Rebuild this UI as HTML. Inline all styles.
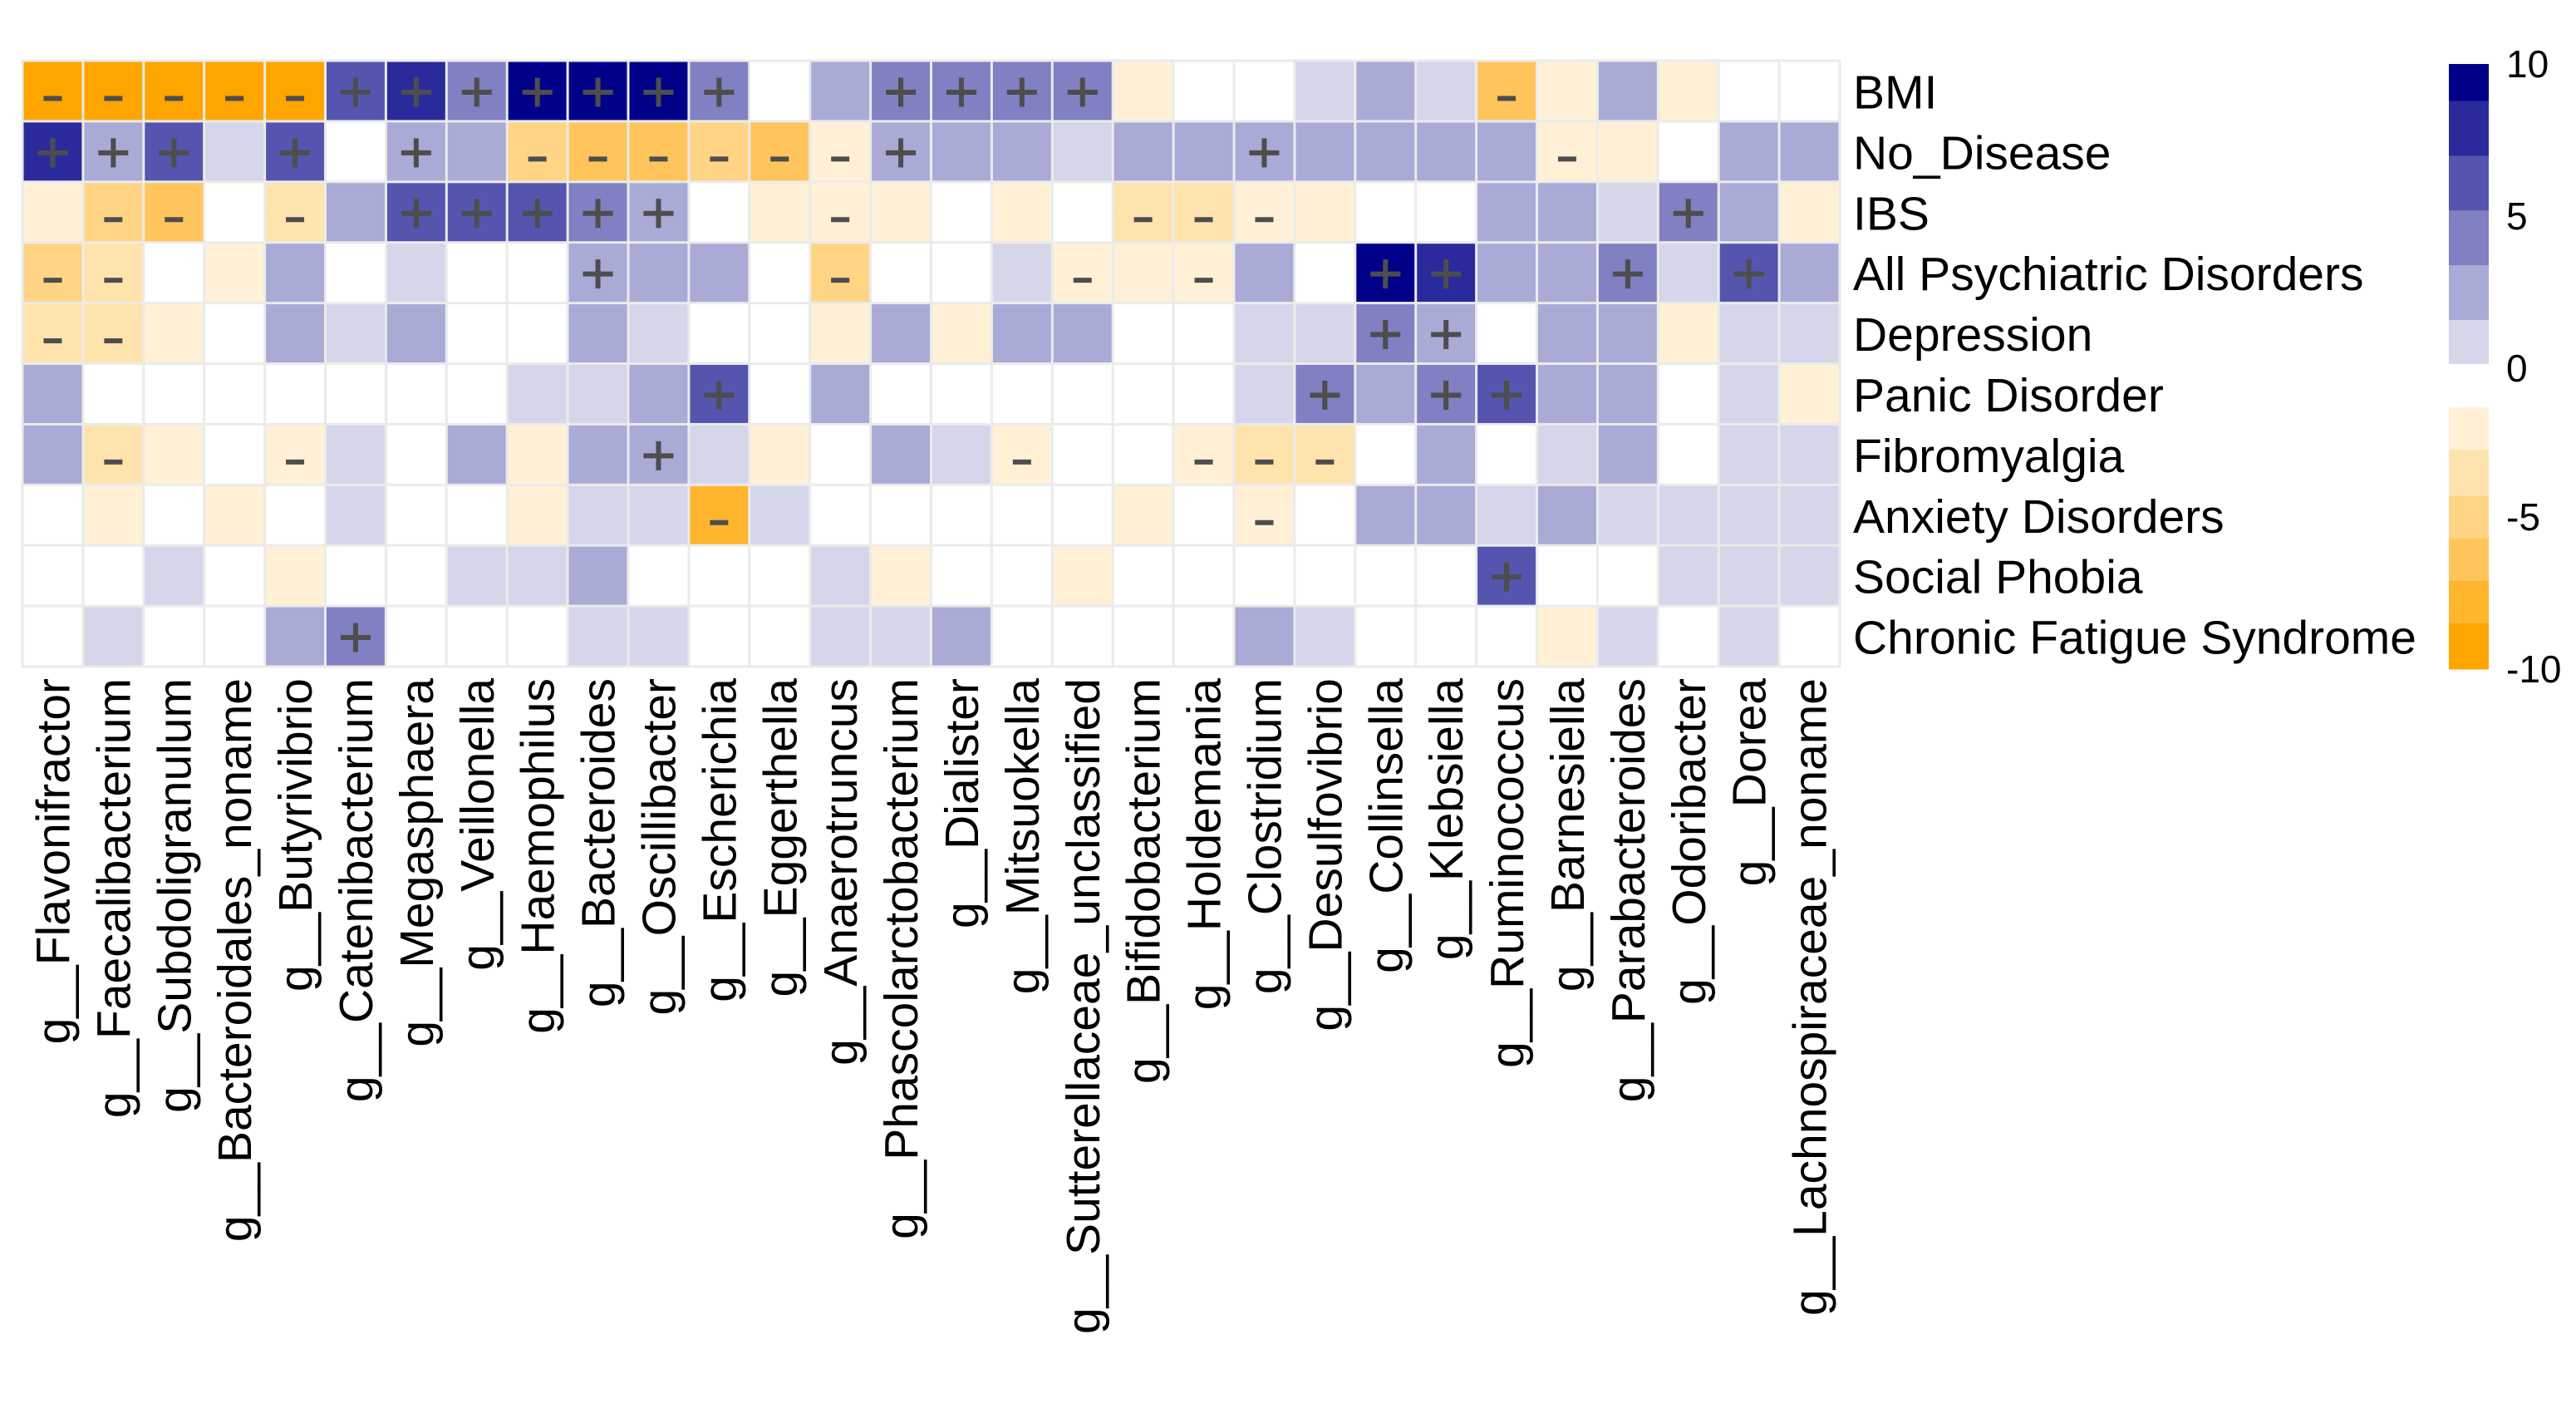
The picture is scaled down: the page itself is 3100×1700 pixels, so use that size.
<!DOCTYPE html>
<html><head><meta charset="utf-8">
<style>
html,body{margin:0;padding:0;background:#fff;}
svg{display:block;}
text{font-family:"Liberation Sans",Arial,sans-serif;fill:#000;}
</style></head>
<body>
<svg id="chart" width="3100" height="1700" viewBox="0 0 3100 1700" xmlns="http://www.w3.org/2000/svg">
<g id="cells"></g>
<g id="marks"></g>
<g id="rowlabels"></g>
<g id="collabels"></g>
<g id="legend"></g>
</svg>
<script>
const rowNames = ["BMI","No_Disease","IBS","All Psychiatric Disorders","Depression","Panic Disorder","Fibromyalgia","Anxiety Disorders","Social Phobia","Chronic Fatigue Syndrome"];
const colNames = ["g__Flavonifractor","g__Faecalibacterium","g__Subdoligranulum","g__Bacteroidales_noname","g__Butyrivibrio","g__Catenibacterium","g__Megasphaera","g__Veillonella","g__Haemophilus","g__Bacteroides","g__Oscillibacter","g__Escherichia","g__Eggerthella","g__Anaerotruncus","g__Phascolarctobacterium","g__Dialister","g__Mitsuokella","g__Sutterellaceae_unclassified","g__Bifidobacterium","g__Holdemania","g__Clostridium","g__Desulfovibrio","g__Collinsella","g__Klebsiella","g__Ruminococcus","g__Barnesiella","g__Parabacteroides","g__Odoribacter","g__Dorea","g__Lachnospiraceae_noname"];
const valBMI = [-9.5,-9.5,-9.5,-9.5,-9.5,6,7.8,4.2,9.5,9.5,9.5,4.2,0,2.5,4.2,4.2,4.2,4.2,-2,0,0,0.8,2.5,0.8,-6.5,-2,2.5,-2,0,0];
const valNoDisease = [7.8,2.5,6,0.8,6,0,2.5,2.5,-5,-6.5,-6.5,-5,-6.5,-2,2.5,2.5,2.5,0.8,2.5,2.5,2.5,2.5,2.5,2.5,2.5,-2,-2,0,2.5,2.5];
const valIBS = [-2,-5,-6.5,0,-3.5,2.5,6,6,6,4.2,2.5,0,-2,-2,-2,0,-2,0,-3.5,-3.5,-2,-2,0,0,2.5,2.5,0.8,4.2,2.5,-2];
const valPsych = [-5,-3.5,0,-2,2.5,0,0.8,0,0,2.5,2.5,2.5,0,-5,0,0,0.8,-2,-2,-2,2.5,0,9.5,7.8,2.5,2.5,4.2,0.8,6,2.5];
const valDepression = [-3.5,-3.5,-2,0,2.5,0.8,2.5,0,0,2.5,0.8,0,0,-2,2.5,-2,2.5,2.5,0,0,0.8,0.8,4.2,2.5,0,2.5,2.5,-2,0.8,0.8];
const valPanic = [2.5,0,0,0,0,0,0,0,0.8,0.8,2.5,6,0,2.5,0,0,0,0,0,0,0.8,4.2,2.5,4.2,6,2.5,2.5,0,0.8,-2];
const valFibro = [2.5,-3.5,-2,0,-2,0.8,0,2.5,-2,2.5,2.5,0.8,-2,0,2.5,0.8,-2,0,0,-2,-3.5,-3.5,0,2.5,0,0.8,2.5,0,0.8,0.8];
const valAnxiety = [0,-2,0,-2,0,0.8,0,0,-2,0.8,0.8,-8,0.8,0,0,0,0,0,-2,0,-2,0,2.5,2.5,0.8,2.5,0.8,0.8,0.8,0.8];
const valSocial = [0,0,0.8,0,-2,0,0,0.8,0.8,2.5,0,0,0,0.8,-2,0,0,-2,0,0,0,0,0,0,6,0,0,0.8,0.8,0.8];
const valCFS = [0,0.8,0,0,2.5,4.2,0,0,0,0.8,0.8,0,0,0.8,0.8,2.5,0,0,0,0,2.5,0.8,0,0,0,-2,0.8,0,0.8,0];
const sigBMI = "111111111111001111000000100000";
const sigNoDisease = "111010101111111000001000010000";
const sigIBS = "011010111110010000111000000100";
const sigPsych = "110000000100010001010011001010";
const sigDepression = "110000000000000000000011000000";
const sigPanic = "000000000001000000000101100000";
const sigFibro = "010010000010000010011100000000";
const sigAnxiety = "000000000001000000001000000000";
const sigSocial = "000000000000000000000000100000";
const sigCFS = "000001000000000000000000000000";
const legendTicks = [10,5,0,-5,-10];

const values = [valBMI,valNoDisease,valIBS,valPsych,valDepression,valPanic,valFibro,valAnxiety,valSocial,valCFS];
const sigs = [sigBMI,sigNoDisease,sigIBS,sigPsych,sigDepression,sigPanic,sigFibro,sigAnxiety,sigSocial,sigCFS];

const NS = "http://www.w3.org/2000/svg";
const gx0 = 27, gy0 = 73, cw = 72.9, ch = 72.9;
function xPos(j){ return gx0 + j*cw; }
function yPos(i){ return gy0 + i*ch; }
const blues = ["#D6D6EA","#AAAAD6","#8080C2","#5555B0","#2B2A9C","#000088"];
const oranges = ["#FFF0D6","#FFE3AD","#FFD485","#FFC55C","#FFB52E","#FFA500"];
function color(v){
  if (v > 0.15){ const b=[1.6,3.4,5.2,7.0,8.8]; let k=0; while(k<5 && v>=b[k]) k++; return blues[k]; }
  if (v < -1.4){ const b=[2.8,4.3,5.7,7.1,8.5]; const a=-v; let k=0; while(k<5 && a>=b[k]) k++; return oranges[k]; }
  return "#FFFFFF";
}
function mk(tag, attrs, parent){ const e=document.createElementNS(NS,tag); for(const k in attrs) e.setAttribute(k, attrs[k]); parent.appendChild(e); return e; }

const gc = document.getElementById("cells");
const gm = document.getElementById("marks");
mk("rect",{x:gx0-1.5,y:gy0-1.5,width:cw*30+3,height:ch*10+3,fill:"#EBEBEB"},gc);
values.forEach((row,i)=>{
  row.forEach((v,j)=>{
    const r = mk("rect",{x:xPos(j)+1.5,y:yPos(i)+1.5,width:cw-3,height:ch-3,fill:color(v)},gc);
    
    
    if (sigs[i][j]==="1"){
      const cx = xPos(j)+cw/2, cy = yPos(i)+ch/2;
      if (v>0){
        const p = mk("path",{d:`M${cx-18} ${cy+1.5}H${cx+18}M${cx} ${cy-16}V${cy+19}`,stroke:"#4D4D4D","stroke-width":6,fill:"none"},gm);
        
        
      } else {
        const p = mk("rect",{x:cx-11,y:cy+6,width:22,height:6,fill:"#4D4D4D"},gm);
        
        
      }
    }
  });
});
const gr = document.getElementById("rowlabels");
rowNames.forEach((n,i)=>{
  const t = mk("text",{x:2230,y:yPos(i)+ch/2+21,"font-size":57},gr);
  t.textContent = n;
  
  
});
const gcl = document.getElementById("collabels");
colNames.forEach((n,j)=>{
  const cx = xPos(j)+cw/2+20;
  const t = mk("text",{transform:`translate(${cx},816) rotate(-90)`,"text-anchor":"end","font-size":57},gcl);
  t.textContent = n;
  
  
});
const gl = document.getElementById("legend");
const lx = 2947, lw = 48;
function ly(v){ return 443 - v*36.6; }
function ly2(v){ return 622 + (-5 - v)*36.6; }
const bEdges=[0.15,1.6,3.4,5.2,7.0,8.8,10];
for(let k=0;k<6;k++){
  const r = mk("rect",{x:lx,y:ly(bEdges[k+1]),width:lw,height:ly(bEdges[k])-ly(bEdges[k+1])+0.5,fill:blues[k]},gl);
  
  
}
const oEdges=[-1.4,-2.8,-4.3,-5.7,-7.1,-8.5,-10];
for(let k=0;k<6;k++){
  const r = mk("rect",{x:lx,y:ly2(oEdges[k]),width:lw,height:ly2(oEdges[k+1])-ly2(oEdges[k])+0.5,fill:oranges[k]},gl);
  
  
}
legendTicks.forEach(v=>{
  const y = v>=0 ? ly(v) : ly2(v);
  const t = mk("text",{x:3016,y:y+16,"font-size":46},gl);
  t.textContent = String(v);
  
  
});
</script>
</body></html>
